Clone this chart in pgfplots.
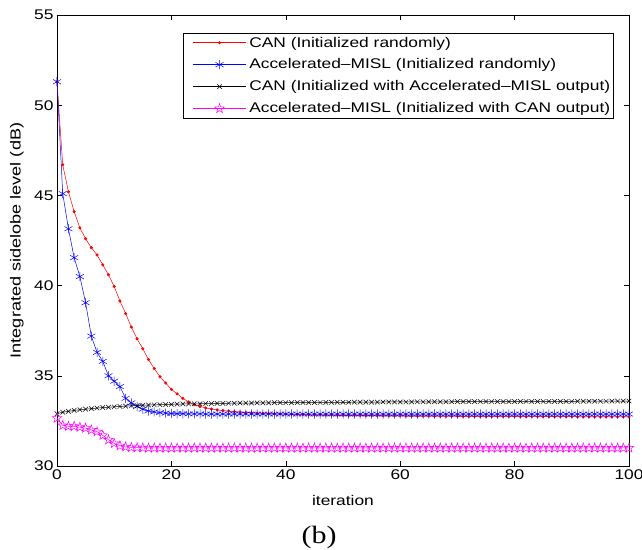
\documentclass[border=0pt]{standalone}
\usepackage{pgfplots}
\usepackage{pgfplotstable}
\pgfplotsset{compat=1.18}
\usepackage{fontspec}
\setmainfont[FakeStretch=1.24]{Liberation Sans}
\newfontfamily\seriffont[FakeStretch=1.2]{Liberation Serif}
\definecolor{cred}{rgb}{1,0,0}
\definecolor{cblue}{rgb}{0,0,1}
\definecolor{cmag}{rgb}{1,0,1}

\pgfdeclareplotmark{pentagram}{%
  \pgfpathmoveto{\pgfpointpolar{90}{\pgfplotmarksize}}%
  \pgfpathlineto{\pgfpointpolar{126}{0.4\pgfplotmarksize}}%
  \pgfpathlineto{\pgfpointpolar{162}{\pgfplotmarksize}}%
  \pgfpathlineto{\pgfpointpolar{198}{0.4\pgfplotmarksize}}%
  \pgfpathlineto{\pgfpointpolar{234}{\pgfplotmarksize}}%
  \pgfpathlineto{\pgfpointpolar{270}{0.4\pgfplotmarksize}}%
  \pgfpathlineto{\pgfpointpolar{306}{\pgfplotmarksize}}%
  \pgfpathlineto{\pgfpointpolar{342}{0.4\pgfplotmarksize}}%
  \pgfpathlineto{\pgfpointpolar{18}{\pgfplotmarksize}}%
  \pgfpathlineto{\pgfpointpolar{54}{0.4\pgfplotmarksize}}%
  \pgfpathclose
  \pgfusepathqstroke
}

\pgfplotstableread{
it can misl canb mislb
0 51.30 51.30 32.90 32.65
1 46.70 45.10 32.98 32.25
2 45.20 43.15 33.03 32.20
3 44.10 41.55 33.08 32.20
4 43.20 40.50 33.12 32.15
5 42.60 39.05 33.15 32.10
6 42.10 37.20 33.18 32.00
7 41.70 36.30 33.21 31.90
8 41.15 35.80 33.24 31.70
9 40.60 35.00 33.26 31.45
10 39.95 34.70 33.28 31.25
11 39.15 34.40 33.30 31.12
12 38.45 33.75 33.32 31.06
13 37.70 33.50 33.34 31.03
14 37.05 33.30 33.35 31.02
15 36.50 33.15 33.37 31.01
16 35.90 33.05 33.38 31.00
17 35.40 33.00 33.39 31.00
18 34.95 32.96 33.40 31.00
19 34.60 32.93 33.41 31.00
20 34.25 32.91 33.42 31.00
21 34.00 32.90 33.43 31.00
22 33.75 32.90 33.44 31.00
23 33.55 32.89 33.44 31.00
24 33.40 32.89 33.45 31.00
25 33.30 32.89 33.45 31.00
26 33.22 32.88 33.46 31.00
27 33.16 32.88 33.46 31.00
28 33.11 32.88 33.47 31.00
29 33.07 32.88 33.47 31.00
30 33.04 32.88 33.48 31.00
31 33.01 32.88 33.48 31.00
32 32.99 32.88 33.49 31.00
33 32.97 32.88 33.49 31.00
34 32.95 32.88 33.49 31.00
35 32.93 32.88 33.50 31.00
36 32.92 32.88 33.50 31.00
37 32.91 32.88 33.50 31.00
38 32.90 32.88 33.51 31.00
39 32.89 32.88 33.51 31.00
40 32.88 32.88 33.51 31.00
41 32.87 32.88 33.51 31.00
42 32.86 32.88 33.52 31.00
43 32.85 32.88 33.52 31.00
44 32.84 32.88 33.52 31.00
45 32.83 32.88 33.52 31.00
46 32.83 32.88 33.52 31.00
47 32.82 32.88 33.53 31.00
48 32.82 32.88 33.53 31.00
49 32.81 32.88 33.53 31.00
50 32.81 32.88 33.53 31.00
51 32.80 32.88 33.53 31.00
52 32.80 32.88 33.54 31.00
53 32.80 32.88 33.54 31.00
54 32.79 32.88 33.54 31.00
55 32.79 32.88 33.54 31.00
56 32.79 32.88 33.54 31.00
57 32.78 32.88 33.55 31.00
58 32.78 32.88 33.55 31.00
59 32.78 32.88 33.55 31.00
60 32.78 32.88 33.55 31.00
61 32.77 32.88 33.55 31.00
62 32.77 32.88 33.55 31.00
63 32.77 32.88 33.56 31.00
64 32.77 32.88 33.56 31.00
65 32.77 32.88 33.56 31.00
66 32.76 32.88 33.56 31.00
67 32.76 32.88 33.56 31.00
68 32.76 32.88 33.56 31.00
69 32.76 32.88 33.56 31.00
70 32.76 32.88 33.57 31.00
71 32.75 32.88 33.57 31.00
72 32.75 32.88 33.57 31.00
73 32.75 32.88 33.57 31.00
74 32.75 32.88 33.57 31.00
75 32.75 32.88 33.57 31.00
76 32.75 32.88 33.57 31.00
77 32.75 32.88 33.57 31.00
78 32.75 32.88 33.57 31.00
79 32.75 32.88 33.57 31.00
80 32.75 32.88 33.57 31.00
81 32.74 32.88 33.58 31.00
82 32.74 32.88 33.58 31.00
83 32.74 32.88 33.58 31.00
84 32.74 32.88 33.58 31.00
85 32.74 32.88 33.58 31.00
86 32.74 32.88 33.58 31.00
87 32.74 32.88 33.58 31.00
88 32.74 32.88 33.58 31.00
89 32.74 32.88 33.58 31.00
90 32.74 32.88 33.58 31.00
91 32.73 32.88 33.59 31.00
92 32.73 32.88 33.59 31.00
93 32.73 32.88 33.59 31.00
94 32.73 32.88 33.59 31.00
95 32.73 32.88 33.59 31.00
96 32.73 32.88 33.59 31.00
97 32.73 32.88 33.60 31.00
98 32.73 32.88 33.60 31.00
99 32.73 32.88 33.60 31.00
100 32.73 32.88 33.60 31.00
}\datatable

\begin{document}
\begin{tikzpicture}
\begin{axis}[
  at={(0pt,0pt)}, anchor=south west,
  scale only axis,
  width=572pt, height=451pt,
  xmin=0, xmax=100, ymin=30, ymax=55,
  xtick={0,20,40,60,80,100},
  ytick={30,35,40,45,50,55},
  major tick length=5pt,
  tick style={black, line width=0.4pt},
  axis line style={line width=0.7pt},
  /pgf/number format/assume math mode=true,
  ticklabel style={font=\fontsize{14}{16}\selectfont},
  xticklabel style={yshift=0pt},
  label style={font=\fontsize{14}{16}\selectfont},
  xlabel={iteration},
  ylabel={Integrated sidelobe level (dB)},
  xlabel style={at={(axis description cs:0.5,-0.088)}, anchor=base},
  ylabel style={at={(axis description cs:-0.07,0.5)}, anchor=center, font=\fontsize{14.6}{16}\selectfont},
  legend cell align=left,
  legend style={at={(0.9738,0.960)}, anchor=north east, font=\fontsize{14}{16}\selectfont,
    draw=black, line width=0.7pt, inner sep=1.5pt, row sep=6.3pt,
    /tikz/every odd column/.append style={column sep=1pt}},
  legend image code/.code={\path (-8pt,0pt); \draw[mark repeat=2,mark phase=2] plot coordinates {(0pt,0pt)(26.5pt,0pt)(53pt,0pt)};},
]
\addplot[cred, line width=0.5pt, mark=*, mark size=1.3pt] table[x=it,y=can] {\datatable};
\addlegendentry{CAN (Initialized randomly)}
\addplot[cblue, line width=0.5pt, mark=asterisk, mark size=4.6pt, mark options={line width=0.5pt}] table[x=it,y=misl] {\datatable};
\addlegendentry{Accelerated--MISL (Initialized randomly)}
\addplot[black, line width=0.5pt, mark=x, mark size=3.2pt] table[x=it,y=canb] {\datatable};
\addlegendentry{CAN (Initialized with Accelerated--MISL output)}
\addplot[cmag, line width=0.5pt, mark=pentagram, mark size=5pt] table[x=it,y=mislb] {\datatable};
\addlegendentry{Accelerated--MISL (Initialized with CAN output)}
\end{axis}
\node[font=\seriffont\fontsize{25}{28}\selectfont, anchor=base, inner sep=0pt] at (262pt,-77pt) {(b)};
\pgfresetboundingbox
\path (-57pt,-83pt) rectangle (585pt,466pt);
\end{tikzpicture}
\end{document}
